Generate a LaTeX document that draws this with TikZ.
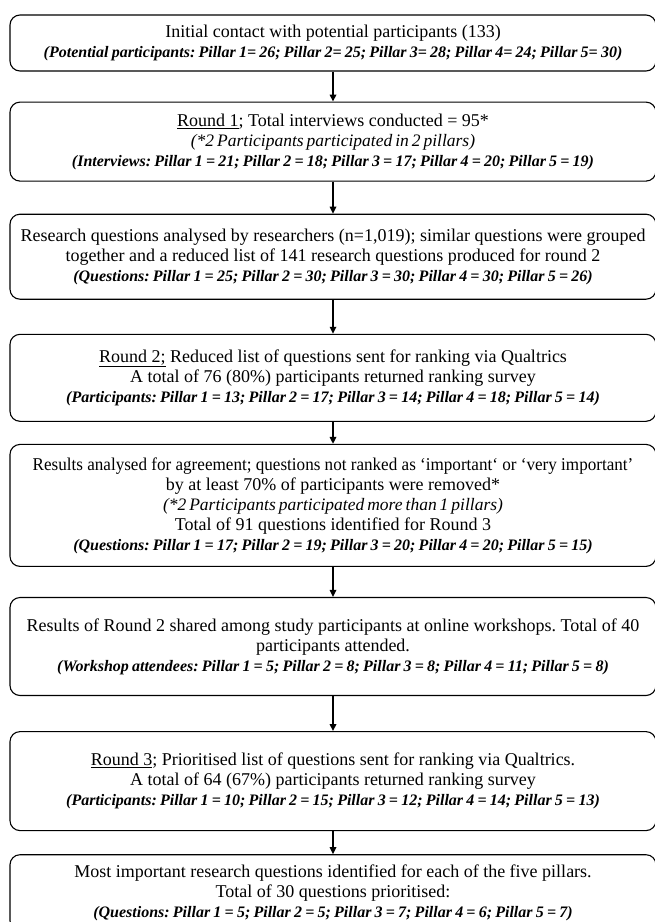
\documentclass[tikz,border=0pt]{standalone}
\usepackage{fontspec}
\setmainfont{Liberation Serif}
\usepackage{graphicx}
\usepackage{tikz}
\usetikzlibrary{arrows.meta, positioning}
\newcommand{\tally}[1]{{\fontsize{16}{19}\selectfont\bfseries\itshape\spaceskip=.2em plus .05em\relax(#1)}}
\newcommand{\aside}[1]{{\fontsize{17.5}{19.5}\selectfont\itshape\spaceskip=.17em plus .05em\relax(#1)}}
\newcommand{\squeeze}[1]{\scalebox{0.95}[1]{#1}}

\begin{document}
\frenchspacing
\begin{tikzpicture}[
  stage/.style={draw, line width=1.1pt, rounded corners=10pt, minimum width=646pt,
    align=center, inner xsep=4pt, font=\fontsize{18}{20}\selectfont},
  flow/.style={line width=1.6pt, -{Triangle[length=7pt, width=6.5pt]}}
]
  \useasboundingbox (0,0) rectangle (654pt,-922pt);

  \node[stage, minimum height=56pt] (contact) at (333pt,-43pt)
    {Initial contact with potential participants (133)\\
     \tally{Potential participants: Pillar 1= 26; Pillar 2= 25; Pillar 3= 28; Pillar 4= 24; Pillar 5= 30}};
  \node[stage, minimum height=79pt, below=30pt of contact] (round1)
    {\underline{Round 1}; Total interviews conducted = 95*\\
     \aside{*2 Participants participated in 2 pillars}\\
     \tally{Interviews: Pillar 1 = 21; Pillar 2 = 18; Pillar 3 = 17; Pillar 4 = 20; Pillar 5 = 19}};
  \node[stage, minimum height=85pt, below=32pt of round1] (grouped)
    {Research questions analysed by researchers (n=1,019); similar questions were grouped\\
     together and a reduced list of 141 research questions produced for round 2\\
     \tally{Questions: Pillar 1 = 25; Pillar 2 = 30; Pillar 3 = 30; Pillar 4 = 30; Pillar 5 = 26}};
  \node[stage, minimum height=87pt, below=34pt of grouped] (round2)
    {\underline{Round 2;} Reduced list of questions sent for ranking via Qualtrics\\
     A total of 76 (80\%) participants returned ranking survey\\
     \tally{Participants: Pillar 1 = 13; Pillar 2 = 17; Pillar 3 = 14; Pillar 4 = 18; Pillar 5 = 14}};
  \node[stage, minimum height=122pt, below=22pt of round2] (agree)
    {\squeeze{Results analysed for agreement; questions not ranked as ‘important‘ or ‘very important’}\\
     by at least 70\% of participants were removed*\\
     \aside{*2 Participants participated more than 1 pillars}\\
     Total of 91 questions identified for Round 3\\
     \tally{Questions: Pillar 1 = 17; Pillar 2 = 19; Pillar 3 = 20; Pillar 4 = 20; Pillar 5 = 15}};
  \node[stage, minimum height=98pt, below=30pt of agree] (workshop)
    {Results of Round 2 shared among study participants at online workshops. Total of 40\\
     participants attended.\\
     \tally{Workshop attendees: Pillar 1 = 5; Pillar 2 = 8; Pillar 3 = 8; Pillar 4 = 11; Pillar 5 = 8}};
  \node[stage, minimum height=99pt, below=35pt of workshop] (round3)
    {\underline{Round 3}; Prioritised list of questions sent for ranking via Qualtrics.\\
     A total of 64 (67\%) participants returned ranking survey\\
     \tally{Participants: Pillar 1 = 10; Pillar 2 = 15; Pillar 3 = 12; Pillar 4 = 14; Pillar 5 = 13}};
  \node[stage, minimum height=76pt, below=23pt of round3] (final)
    {Most important research questions identified for each of the five pillars.\\
     Total of 30 questions prioritised:\\
     \tally{Questions: Pillar 1 = 5; Pillar 2 = 5; Pillar 3 = 7; Pillar 4 = 6; Pillar 5 = 7}};

  \draw[flow] (contact) -- (round1);
  \draw[flow] (round1) -- (grouped);
  \draw[flow] (grouped) -- (round2);
  \draw[flow] (round2) -- (agree);
  \draw[flow] (agree) -- (workshop);
  \draw[flow] (workshop) -- (round3);
  \draw[flow] (round3) -- (final);
\end{tikzpicture}
\end{document}
